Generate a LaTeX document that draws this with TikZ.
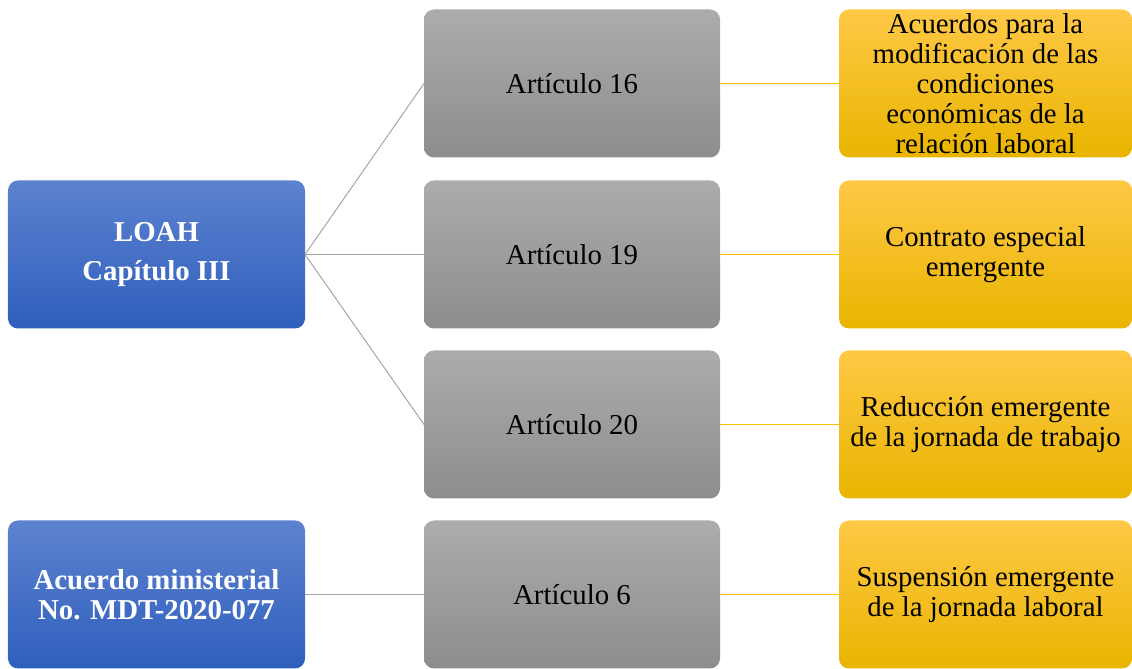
\documentclass[tikz,border=0pt]{standalone}
\usepackage{fontspec}
\setmainfont{Liberation Serif}
\usetikzlibrary{positioning}

\definecolor{bluetop}{HTML}{5D82CF}
\definecolor{bluebot}{HTML}{2F5FBD}
\definecolor{graytop}{HTML}{ACACAC}
\definecolor{graybot}{HTML}{8D8D8D}
\definecolor{yeltop}{HTML}{FFC846}
\definecolor{yelbot}{HTML}{E9B500}
\definecolor{linegray}{HTML}{A5A5A5}
\definecolor{lineyel}{HTML}{FFC000}

\begin{document}
\begin{tikzpicture}[every node/.style={outer sep=0pt,inner sep=0pt},
		box/.style={rounded corners=0.25cm,minimum height=3.7cm,align=center,
		font=\fontsize{20.5}{21.3}\selectfont},
		law/.style={box,minimum width=7.425cm,top color=bluetop,bottom color=bluebot,
		text=white,font=\fontsize{20.5}{21.3}\selectfont\bfseries},
		art/.style={box,minimum width=7.4cm,top color=graytop,bottom color=graybot},
		topic/.style={box,minimum width=7.325cm,top color=yeltop,bottom color=yelbot},
		link/.style={draw=linegray,line width=0.7pt},
		ylink/.style={draw=lineyel,line width=0.7pt},
		]
		\useasboundingbox (0,0) rectangle (28.3,16.725);

		% articulos
		\node[art] (a16) at (14.3,14.6375) {Artículo 16};
		\node[art,below=0.575cm of a16] (a19) {Artículo 19};
		\node[art,below=0.55cm of a19] (a20) {Artículo 20};
		\node[art,below=0.55cm of a20] (a6) {Artículo 6};

		% leyes
		\node[law,left=2.975cm of a19] (loah) {LOAH\\[6pt]Capítulo III};
		\node[law,left=2.975cm of a6] (mdt) {Acuerdo ministerial\\No. MDT-2020-077};

		% temas
		\node[topic,right=2.975cm of a16] (t16) {Acuerdos para la\\modificación de las\\condiciones\\económicas de la\\relación laboral};
		\node[topic,right=2.975cm of a19] (t19) {Contrato especial\\emergente};
		\node[topic,right=2.975cm of a20] (t20) {Reducción emergente\\de la jornada de trabajo};
		\node[topic,right=2.975cm of a6] (t6) {Suspensión emergente\\de la jornada laboral};

		\foreach \a in {a16,a19,a20}
		  \draw[link] (loah.east) -- (\a.west);
		\draw[link] (mdt.east) -- (a6.west);

		\foreach \a/\t in {a16/t16,a19/t19,a20/t20,a6/t6}
		  \draw[ylink] (\a.east) -- (\t.west);

\end{tikzpicture}
\end{document}
